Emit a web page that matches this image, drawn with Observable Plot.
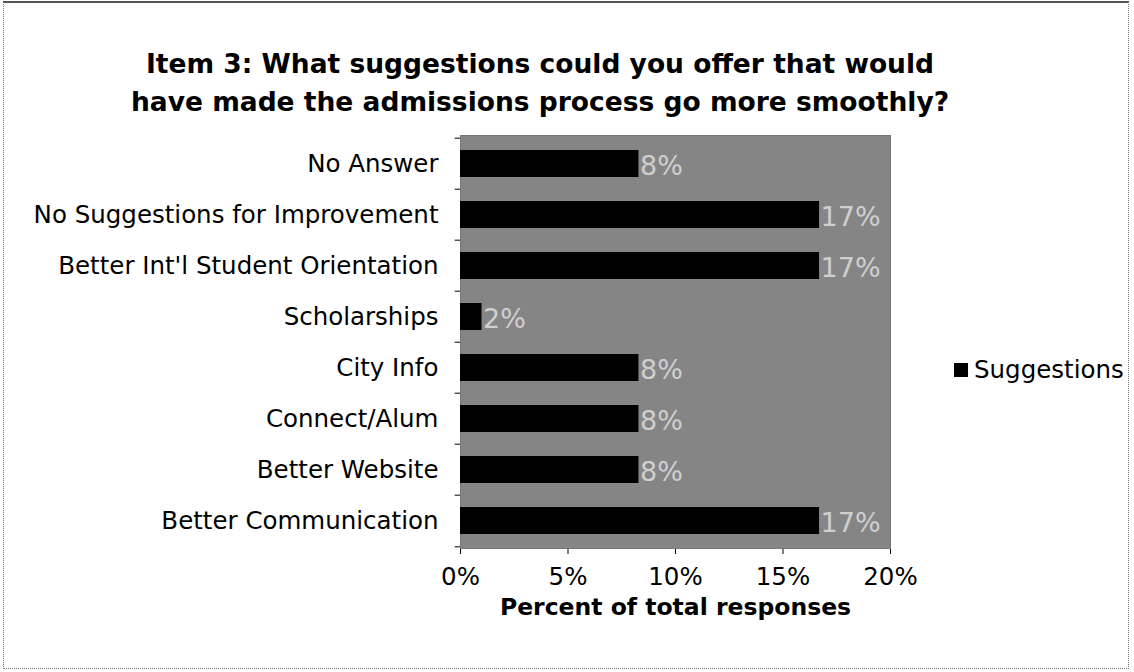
<!DOCTYPE html>
<html>
<head>
<meta charset="utf-8">
<script src="https://cdn.jsdelivr.net/npm/d3@7"></script>
<script src="https://cdn.jsdelivr.net/npm/@observablehq/plot@0.6"></script>
<style>
  html, body { margin: 0; padding: 0; background: #fff; }
  #wrap { position: relative; width: 1134px; height: 672px; overflow: hidden; font-family: "DejaVu Sans", Verdana, sans-serif; }
  #border { position: absolute; left: 3px; top: 1px; width: 1126px; height: 668px; border: 1px dotted #777; border-top: 2px solid #555; box-sizing: border-box; }
  #title { position: absolute; left: 0; top: 45px; width: 1080px; text-align: center; font-weight: bold; font-size: 26.5px; line-height: 38px; color: #000; }
  #chart { position: absolute; left: 0; top: 0; }
  #legend { position: absolute; left: 954px; top: 355px; font-size: 24.5px; color: #000; display: flex; align-items: center; }
  #legend .sw { width: 14px; height: 14px; background: #000; margin-right: 6px; }
</style>
</head>
<body>
<div id="wrap">
  <div id="border"></div>
  <div id="chart"></div>
  <div id="title">Item 3: What suggestions could you offer that would<br>have made the admissions process go more smoothly?</div>
  <div id="legend"><span class="sw"></span><span>Suggestions</span></div>
</div>
<script>
const categories = [
  "No Answer",
  "No Suggestions for Improvement",
  "Better Int'l Student Orientation",
  "Scholarships",
  "City Info",
  "Connect/Alum",
  "Better Website",
  "Better Communication"
];
const values = [8.3, 16.7, 16.7, 1.0, 8.3, 8.3, 8.3, 16.7];
const valueLabels = ["8%", "17%", "17%", "2%", "8%", "8%", "8%", "17%"];
const xTicks = [0, 5, 10, 15, 20];
const seriesName = "Suggestions";
const xLabel = "Percent of total responses";

const data = categories.map((c, i) => ({category: c, value: values[i], label: valueLabels[i]}));

const W = 1134, H = 672;
const mTop = 135, mBottom = 124, mLeft = 460, mRight = 244;
const band = (H - mTop - mBottom) / categories.length;

const chart = Plot.plot({
  width: W,
  height: H,
  marginTop: mTop,
  marginBottom: mBottom,
  marginLeft: mLeft,
  marginRight: mRight,
  style: {fontFamily: "'DejaVu Sans', Verdana, sans-serif", fontSize: "24.5px", color: "#000", background: "transparent"},
  x: {domain: [0, 20], ticks: xTicks, tickFormat: d => d + "%", line: true, tickSize: 6, tickPadding: 13, label: null},
  y: {domain: categories, padding: 0, line: true, tickSize: 0, tickPadding: 22, label: null},
  marks: [
    Plot.frame({fill: "#858585", stroke: "#777"}),
    Plot.barX(data, {y: "category", x: "value", fill: "#000", insetTop: 12, insetBottom: 12}),
    Plot.text(data, {y: "category", x: "value", text: "label", textAnchor: "start", dx: 1, dy: 2, fill: "#cfcfcf", fontSize: 27}),
    Plot.ruleY(categories, {y: d => d, x1: -0.25, x2: 0, dy: -band / 2, stroke: "#000"}),
    Plot.ruleY([categories[categories.length - 1]], {y: d => d, x1: -0.25, x2: 0, dy: band / 2, stroke: "#000"}),
    Plot.text([xLabel], {frameAnchor: "bottom", dy: 66, text: d => d, fontWeight: "bold", fontSize: 23.5, fill: "#000"})
  ]
});
document.getElementById("chart").appendChild(chart);
document.querySelector("#legend span:last-child").textContent = seriesName;
</script>
</body>
</html>
